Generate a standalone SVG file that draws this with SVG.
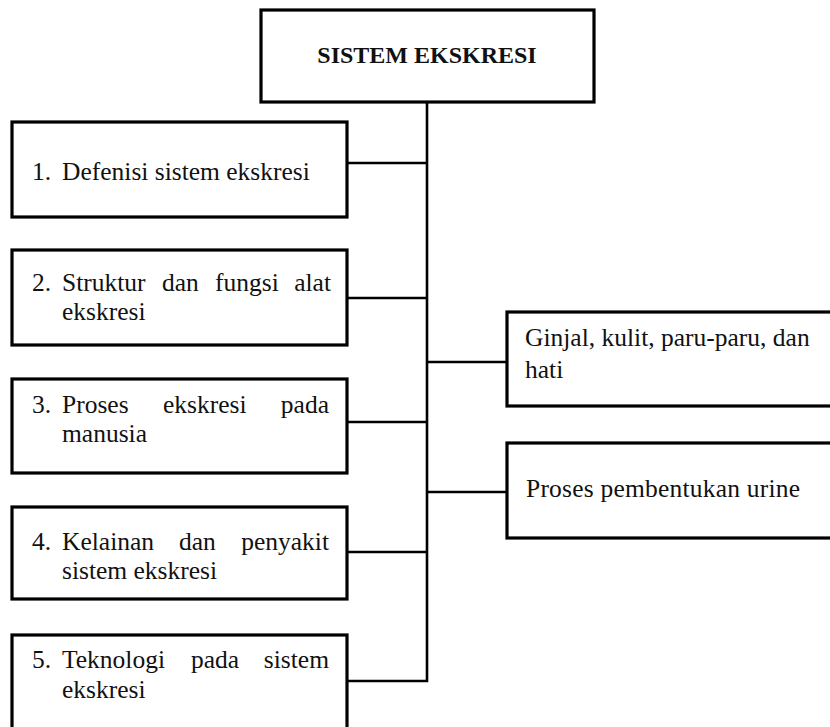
<svg xmlns="http://www.w3.org/2000/svg" width="830" height="727" viewBox="0 0 830 727">
  <style>
    .box { fill: #ffffff; stroke: #000000; stroke-width: 3.2; }
    .link { fill: none; stroke: #000000; stroke-width: 2.6; }
    .t { font-family: "Liberation Serif", "Times New Roman", serif; font-size: 25.5px; fill: #111111; }
    .title { font-family: "Liberation Serif", "Times New Roman", serif; font-size: 24px; font-weight: bold; fill: #111111; }
    .end { text-anchor: end; }
  </style>
  <rect width="830" height="727" fill="#ffffff"/>

  <!-- trunk and branches -->
  <g id="connectors">
    <path class="link" d="M427 102 V681 H347"/>
    <path class="link" d="M347 163 H427"/>
    <path class="link" d="M347 298 H427"/>
    <path class="link" d="M347 422 H427"/>
    <path class="link" d="M347 552 H427"/>
    <path class="link" d="M427 362 H507"/>
    <path class="link" d="M427 492 H507"/>
  </g>

  <g id="root">
    <rect class="box" x="261" y="10" width="333" height="92"/>
    <text class="title" x="427" y="63" text-anchor="middle">SISTEM EKSKRESI</text>
  </g>

  <g id="item1">
    <rect class="box" x="12" y="122" width="335" height="95"/>
    <text class="t" x="32" y="180">1.</text>
    <text class="t" x="62" y="180">Defenisi sistem ekskresi</text>
  </g>

  <!-- justified first lines: words placed one by one -->
  <g id="item2">
    <rect class="box" x="12" y="250" width="335" height="95"/>
    <text class="t" x="32" y="291">2.</text>
    <text class="t" x="62" y="291">Struktur</text>
    <text class="t" x="162" y="291">dan</text>
    <text class="t" x="215" y="291">fungsi</text>
    <text class="t end" x="331" y="291">alat</text>
    <text class="t" x="62" y="320">ekskresi</text>
  </g>

  <g id="item3">
    <rect class="box" x="12" y="379" width="335" height="94"/>
    <text class="t" x="32" y="413">3.</text>
    <text class="t" x="62" y="413">Proses</text>
    <text class="t" x="163" y="413">ekskresi</text>
    <text class="t end" x="329" y="413">pada</text>
    <text class="t" x="62" y="442">manusia</text>
  </g>

  <g id="item4">
    <rect class="box" x="12" y="507" width="335" height="92"/>
    <text class="t" x="32" y="550">4.</text>
    <text class="t" x="62" y="550">Kelainan</text>
    <text class="t" x="179" y="550">dan</text>
    <text class="t end" x="329" y="550">penyakit</text>
    <text class="t" x="62" y="579">sistem ekskresi</text>
  </g>

  <g id="item5">
    <rect class="box" x="12" y="635" width="335" height="120"/>
    <text class="t" x="32" y="668">5.</text>
    <text class="t" x="62" y="668">Teknologi</text>
    <text class="t" x="191" y="668">pada</text>
    <text class="t end" x="329" y="668">sistem</text>
    <text class="t" x="62" y="698">ekskresi</text>
  </g>

  <g id="organs">
    <rect class="box" x="507" y="312" width="340" height="94"/>
    <text class="t" x="525" y="346" font-size="25">Ginjal, kulit, paru-paru, dan</text>
    <text class="t" x="525" y="378">hati</text>
  </g>

  <g id="urine">
    <rect class="box" x="507" y="443" width="340" height="95"/>
    <text class="t" x="526" y="497" textLength="274" lengthAdjust="spacing">Proses pembentukan urine</text>
  </g>
</svg>
